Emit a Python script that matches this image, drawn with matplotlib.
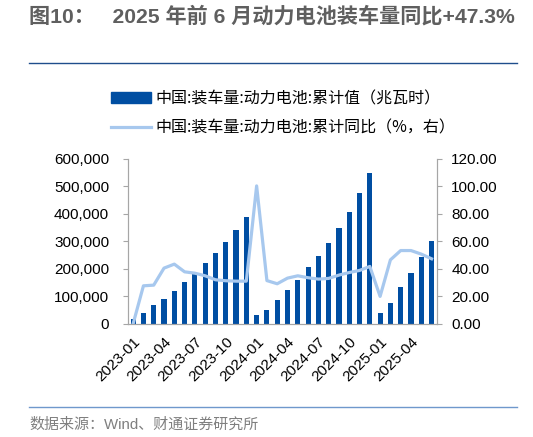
import matplotlib.pyplot as plt
from matplotlib.lines import Line2D
from matplotlib.ticker import FuncFormatter
import numpy as np
import pandas as pd

# monthly categories 2023-01 .. 2025-06
months = [p.strftime('%Y-%m') for p in pd.period_range('2023-01', periods=30, freq='M')]

# cumulative installed volume (MWh)
cum_mwh = [16100, 38200, 67000, 91000, 120000, 152000, 184000, 220000, 257000, 297000,
           341000, 388000, 32300, 50900, 86000, 121000, 161000, 205000, 246000, 293000,
           348000, 407000, 475000, 548000, 38800, 74000, 132000, 185000, 242000, 300000]

# cumulative yoy (%)
cum_yoy = [0.0, 27.6, 28.1, 40.5, 43.4, 37.8, 36.8, 34.9, 32.0, 31.3,
           31.0, 31.0, 100.4, 31.4, 29.1, 33.2, 34.9, 33.5, 32.5, 33.0,
           35.4, 37.3, 38.8, 41.7, 19.9, 46.5, 53.3, 53.3, 50.7, 47.3]

label_bar = '中国:装车量:动力电池:累计值（兆瓦时）'
label_line = '中国:装车量:动力电池:累计同比（%，右）'
title = '图10：   2025 年前 6 月动力电池装车量同比+47.3%'
source = '数据来源：Wind、财通证券研究所'

bar_color = '#004EA2'
line_color = '#A7C8EE'
axis_color = '#A6A6A6'

plt.rcParams['font.family'] = ['Liberation Sans', 'Noto Sans CJK SC']

W, H = 533, 437
fig = plt.figure(figsize=(W / 100, H / 100), dpi=100)

# axes placed in pixel terms
left, right, top, bottom = 128, 436.7, 159, 323.7
ax = fig.add_axes([left / W, 1 - bottom / H, (right - left) / W, (bottom - top) / H])
ax2 = ax.twinx()

x = np.arange(len(months))
ax.bar(x, cum_mwh, width=0.5, color=bar_color, zorder=2)
ax2.plot(x, cum_yoy, color=line_color, lw=2.3, solid_joinstyle='round', zorder=3)

ax.set_xlim(-0.5, len(months) - 0.5)
ax.set_ylim(0, 600000)
ax.set_yticks(np.arange(0, 600001, 100000))
ax.yaxis.set_major_formatter(FuncFormatter(lambda v, p: f'{int(v):,}'))
ax2.set_ylim(0, 120)
ax2.set_yticks(np.arange(0, 121, 20))
ax2.yaxis.set_major_formatter(FuncFormatter(lambda v, p: f'{v:.2f}'))

ax.set_xticks(x[::3])
ax.set_xticklabels(months[::3], rotation=45, ha='right', rotation_mode='anchor')

for a in (ax, ax2):
    a.spines['top'].set_visible(False)
    for s in ('left', 'right', 'bottom'):
        a.spines[s].set_color(axis_color)
        a.spines[s].set_linewidth(0.8)
    a.set_facecolor('none')
ax.tick_params(axis='x', length=0, labelsize=11, pad=8)
ax.tick_params(axis='y', length=3.5, color=axis_color, labelsize=11, pad=10)
ax2.tick_params(axis='y', length=3.5, color=axis_color, labelsize=11, pad=7)

# legend
handles = [plt.Rectangle((0, 0), 1, 1, color=bar_color),
           Line2D([0], [0], color=line_color, lw=2.3)]
fig.legend(handles, [label_bar, label_line], loc='upper left',
           bbox_to_anchor=(105 / W, 1 - 84 / H), frameon=False,
           prop={'family': ['Noto Sans CJK SC'], 'size': 11.5},
           handlelength=2.5, handletextpad=0.25, labelspacing=0.75, borderaxespad=0)

# title, rules and source
fig.text(29 / W, 1 - 16 / H, title, ha='left', va='center', fontsize=15.2,
         fontweight='bold', color='#5F5F5F')
fig.add_artist(Line2D([29 / W, 517 / W], [1 - 63.3 / H] * 2, color='#1F4E8C', lw=1.0))
fig.add_artist(Line2D([29 / W, 517 / W], [1 - 407 / H] * 2, color='#6F98CC', lw=1.0))
fig.text(29 / W, 1 - 425 / H, source, ha='left', va='center', fontsize=10.8,
         color='#7F7F7F')

fig.savefig('out.png', dpi=100)
